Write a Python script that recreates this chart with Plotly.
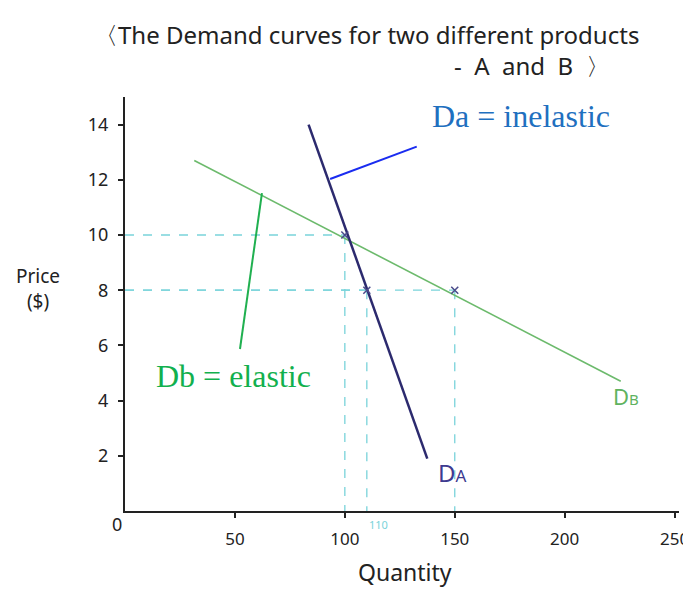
import plotly.graph_objects as go

# ---- data ----
da_qty = [83.5, 137.5]
da_price = [14.0, 1.9]
db_qty = [31.5, 225.5]
db_price = [12.7, 4.7]
point_qty = [100, 110, 150]
point_price = [10, 8, 8]
x_ticks = [50, 100, 150, 200, 250]
x_tick_labels = ["50", "100", "150", "200", "250"]
y_ticks = [2, 4, 6, 8, 10, 12, 14]
y_tick_labels = ["2", "4", "6", "8", "10", "12", "14"]

CYAN = "#79d3da"
NAVY = "#2c2a6e"
GREEN = "#6cba6c"
HAND = "Noto Sans"

fig = go.Figure()

# dashed reference lines from each point to the axes
for q, p in zip(point_qty, point_price):
    fig.add_trace(go.Scatter(x=[0, q], y=[p, p], mode="lines",
                             line=dict(color=CYAN, width=1.3, dash="dash"),
                             hoverinfo="skip", showlegend=False))
    fig.add_trace(go.Scatter(x=[q, q], y=[p, 0], mode="lines",
                             line=dict(color=CYAN, width=1.3, dash="dash"),
                             hoverinfo="skip", showlegend=False))

fig.add_trace(go.Scatter(x=db_qty, y=db_price, mode="lines",
                         line=dict(color=GREEN, width=1.6), showlegend=False))
fig.add_trace(go.Scatter(x=da_qty, y=da_price, mode="lines",
                         line=dict(color=NAVY, width=2.5), showlegend=False))
fig.add_trace(go.Scatter(x=point_qty, y=point_price, mode="markers",
                         marker=dict(symbol="x-thin", size=7,
                                     line=dict(color="#4a4a8a", width=1.5)),
                         showlegend=False))

# pointer lines for the labels
fig.add_shape(type="line", x0=93.3, y0=12.03, x1=132.7, y1=13.2,
              line=dict(color="#1a2cf0", width=2))
fig.add_shape(type="line", x0=62.3, y0=11.52, x1=52.3, y1=5.87,
              line=dict(color="#20b050", width=2))

C = dict(xanchor="center", yanchor="middle", showarrow=False)
ann = []
ann.append(dict(x=180.2, y=14.31, xref="x", yref="y", text="Da = inelastic",
                font=dict(family="Liberation Serif", size=32, color="#1f70bf"), **C))
ann.append(dict(x=49.4, y=4.89, xref="x", yref="y", text="Db = elastic",
                font=dict(family="Liberation Serif", size=32, color="#12b04e"), **C))
ann.append(dict(x=148.8, y=1.41, xref="x", yref="y", text="D<span style='font-size:17px'>A</span>",
                font=dict(family=HAND, size=24, color="#3d3a90"), **C))
ann.append(dict(x=228.0, y=4.17, xref="x", yref="y", text="D<span style='font-size:15px'>B</span>",
                font=dict(family=HAND, size=22, color="#5fb35f"), **C))
ann.append(dict(x=0.4567, y=-0.0338, xref="paper", yref="paper", text="110",
                font=dict(family=HAND, size=11, color=CYAN), **C))
ann.append(dict(x=-0.0144, y=-0.0314, xref="paper", yref="paper", text="0",
                font=dict(family=HAND, size=18, color="#222"), **C))
ann.append(dict(x=-0.157, y=0.5386, xref="paper", yref="paper", text="Price<br>($)",
                font=dict(family=HAND, size=19, color="#222"), **C))
ann.append(dict(x=0.505, y=-0.1473, xref="paper", yref="paper", text="Quantity",
                font=dict(family=HAND, size=23, color="#222"), **C))
ann.append(dict(x=0.4368, y=1.1498, xref="paper", yref="paper",
                text="〈The Demand curves for two different products",
                font=dict(family=HAND, size=24, color="#222"), **C))
ann.append(dict(x=0.7347, y=1.0749, xref="paper", yref="paper", text="-  A  and  B  〉",
                font=dict(family=HAND, size=24, color="#222"), **C))

fig.update_layout(
    width=683, height=596,
    margin=dict(l=125, r=4, t=97, b=85),
    paper_bgcolor="white", plot_bgcolor="white",
    annotations=ann,
    showlegend=False,
    xaxis=dict(range=[0, 252], showgrid=False, zeroline=False,
               showline=True, linecolor="#222", linewidth=2,
               tickmode="array", tickvals=x_ticks, ticktext=x_tick_labels,
               ticks="outside", ticklen=5, tickcolor="#222", tickwidth=1.5,
               ticklabelstandoff=7, ticklabeloverflow="allow", automargin=False,
               tickfont=dict(family=HAND, size=17, color="#222")),
    yaxis=dict(range=[0, 15], showgrid=False, zeroline=False,
               showline=True, linecolor="#222", linewidth=2,
               tickmode="array", tickvals=y_ticks, ticktext=y_tick_labels,
               ticks="outside", ticklen=5, tickcolor="#222", tickwidth=1.5,
               ticklabelstandoff=6, automargin=False,
               tickfont=dict(family=HAND, size=18, color="#222")),
)

fig.write_html("out.html", post_script="document.body.style.margin='0';",
               config={"displayModeBar": False})
